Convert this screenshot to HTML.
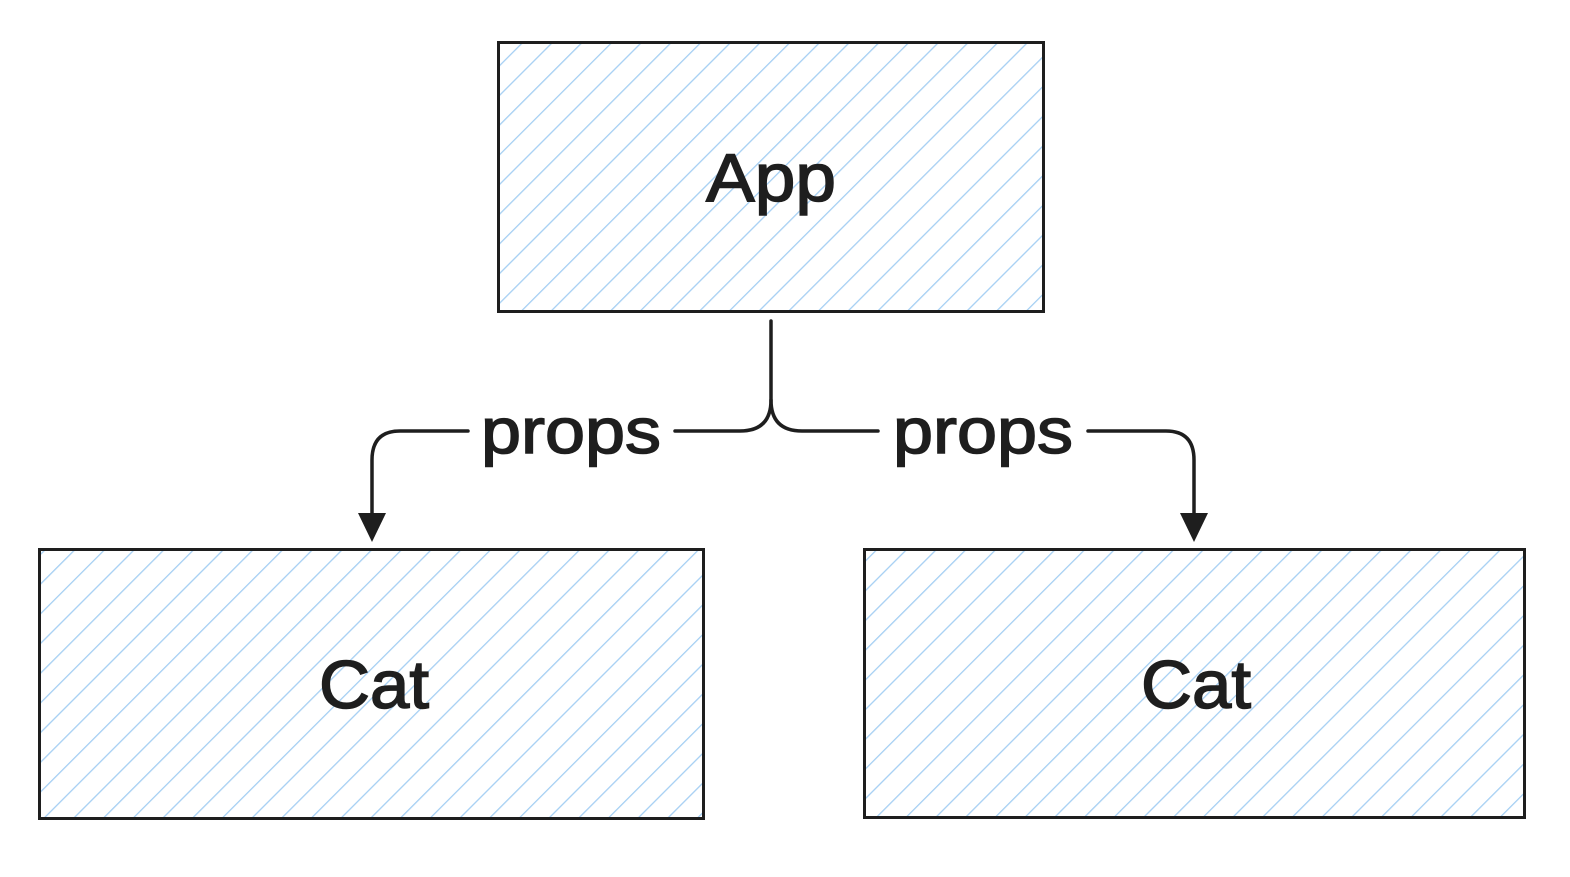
<!DOCTYPE html>
<html><head><style>html,body{margin:0;background:#fff}</style></head><body>
<svg width="1570" height="872" xmlns="http://www.w3.org/2000/svg">
<defs>
<pattern id="h" width="21" height="21" patternUnits="userSpaceOnUse" patternTransform="rotate(45)">
<rect width="21" height="21" fill="#fff"/>
<line x1="0" y1="0" x2="0" y2="21" stroke="#a5cff3" stroke-width="2.6"/>
</pattern>
</defs>
<rect x="498.5" y="42.5" width="545" height="269" fill="url(#h)" stroke="#1e1e1e" stroke-width="3"/>
<rect x="39.5" y="549.5" width="664" height="269" fill="url(#h)" stroke="#1e1e1e" stroke-width="3"/>
<rect x="864.5" y="549.5" width="660" height="268" fill="url(#h)" stroke="#1e1e1e" stroke-width="3"/>
<g font-family="Liberation Sans, sans-serif" fill="#1e1e1e" stroke="#1e1e1e" stroke-width="1.5" text-anchor="middle">
<text x="771" y="201" font-size="68" textLength="130" lengthAdjust="spacingAndGlyphs">App</text>
<text x="374" y="708" font-size="68" textLength="110" lengthAdjust="spacingAndGlyphs">Cat</text>
<text x="1196" y="708" font-size="68" textLength="110" lengthAdjust="spacingAndGlyphs">Cat</text>
<text x="571" y="453" font-size="64" textLength="180" lengthAdjust="spacingAndGlyphs">props</text>
<text x="983" y="453" font-size="64" textLength="180" lengthAdjust="spacingAndGlyphs">props</text>
</g>
<g fill="none" stroke="#1e1e1e" stroke-width="3.5" stroke-linecap="round">
<path d="M771 321 V400 Q771 431 740 431 H675"/>
<path d="M771 400 Q771 431 802 431 H878"/>
<path d="M468 431 H400 Q372 431 372 460 V515"/>
<path d="M1088 431 H1166 Q1194 431 1194 460 V515"/>
</g>
<path d="M358 513 L386 513 L372 542 Z" fill="#1e1e1e"/>
<path d="M1180 513 L1208 513 L1194 542 Z" fill="#1e1e1e"/>
</svg>
</body></html>
